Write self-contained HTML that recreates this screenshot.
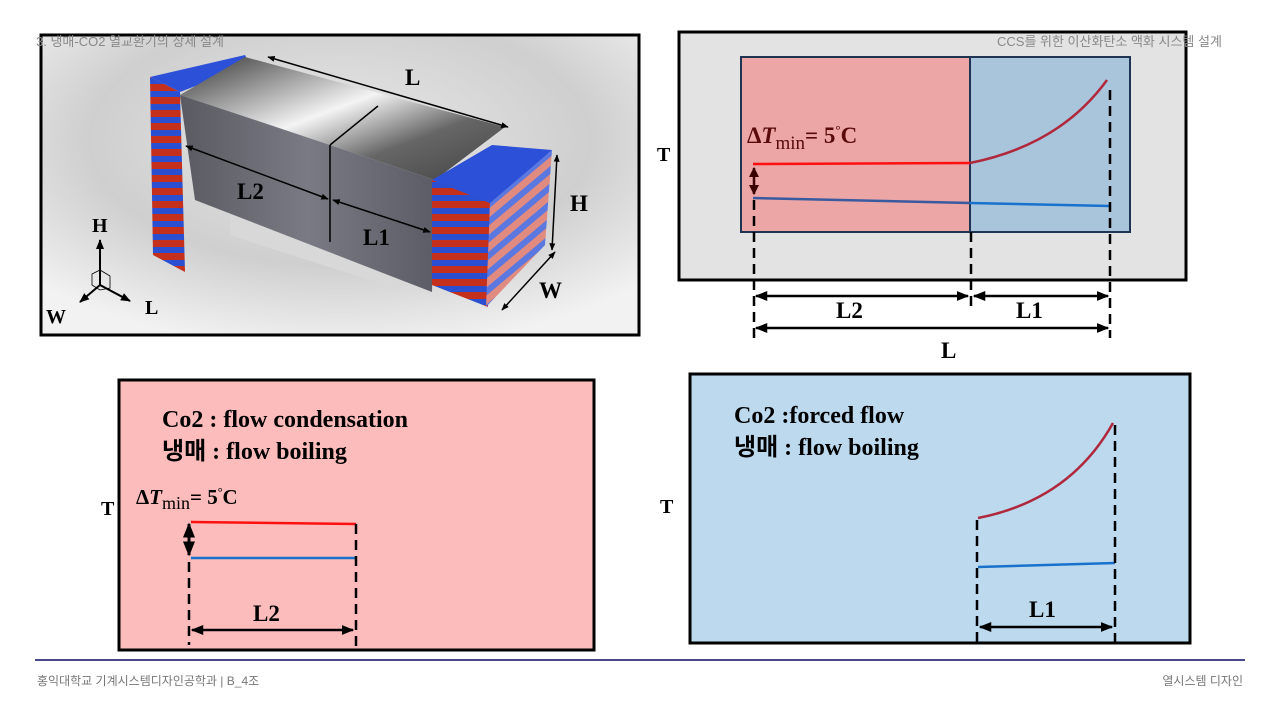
<!DOCTYPE html>
<html><head><meta charset="utf-8"><style>
html,body{margin:0;padding:0;background:#fff;}
svg{display:block;}
.s{font-family:"Liberation Serif",serif;font-weight:bold;}
.k{font-family:"Liberation Sans","Noto Sans CJK KR",sans-serif;}
</style></head><body>
<svg width="1280" height="720" viewBox="0 0 1280 720" xmlns="http://www.w3.org/2000/svg">
<defs>
<marker id="a" viewBox="0 0 10 10" refX="9" refY="5" markerWidth="5" markerHeight="5" orient="auto-start-reverse"><path d="M0,1L10,5L0,9z" fill="#000"/></marker>
<marker id="ad" viewBox="0 0 10 10" refX="9" refY="5" markerWidth="4" markerHeight="4" orient="auto-start-reverse"><path d="M0,0L10,5L0,10z" fill="#3a0000"/></marker>
<radialGradient id="bg" cx="0.5" cy="0.35" r="0.7"><stop offset="0" stop-color="#e8e8e8"/><stop offset="0.6" stop-color="#cfcfcf"/><stop offset="1" stop-color="#f2f2f2"/></radialGradient>
<linearGradient id="top" x1="0" y1="0" x2="1" y2="1"><stop offset="0" stop-color="#333"/><stop offset="0.45" stop-color="#f4f4f4"/><stop offset="0.7" stop-color="#666"/><stop offset="1" stop-color="#444"/></linearGradient>
<linearGradient id="front" x1="0" y1="0" x2="1" y2="0"><stop offset="0" stop-color="#5a5a62"/><stop offset="0.5" stop-color="#7a7a84"/><stop offset="1" stop-color="#5c5c66"/></linearGradient>
<pattern id="stripe" width="10" height="13" patternUnits="userSpaceOnUse"><rect width="10" height="13" fill="#c4301c"/><rect width="10" height="6" fill="#2a4fd0"/></pattern>
<pattern id="stripe2" width="10" height="13" patternUnits="userSpaceOnUse" patternTransform="rotate(-40)"><rect width="10" height="13" fill="#e08a80"/><rect width="10" height="6" fill="#5a78e0"/></pattern>
</defs>

<!-- Top-left render -->
<rect x="41" y="35" width="598" height="300" fill="url(#bg)" stroke="#000" stroke-width="3"/>
<text x="36" y="46" class="k" font-size="13" fill="#888">3. 냉매-CO2 열교환기의 상세 설계</text>
<polygon points="230,200 400,268 400,290 230,235" fill="#d8d8d8"/>
<polygon points="150,77 245,55 250,65 180,92" fill="#2c50d8"/>
<polygon points="150,77 180,92 185,272 153,255" fill="url(#stripe)"/>
<polygon points="245,57 505,127 435,180 180,95" fill="url(#top)"/>
<polygon points="180,95 435,180 432,292 195,200" fill="url(#front)"/>
<polygon points="432,180 492,145 552,150 490,205" fill="#2c50d8"/>
<polygon points="432,180 490,203 488,307 432,285" fill="url(#stripe)"/>
<polygon points="490,203 552,150 545,245 486,307" fill="url(#stripe2)"/>
<line x1="330" y1="145" x2="330" y2="242" stroke="#000" stroke-width="1.5"/>
<line x1="330" y1="145" x2="378" y2="106" stroke="#000" stroke-width="1.5"/>
<line x1="268" y1="57" x2="508" y2="127" stroke="#000" stroke-width="1.5" marker-start="url(#a)" marker-end="url(#a)"/>
<line x1="186" y1="146" x2="328" y2="199" stroke="#000" stroke-width="1.5" marker-start="url(#a)" marker-end="url(#a)"/>
<line x1="333" y1="200" x2="430" y2="232" stroke="#000" stroke-width="1.5" marker-start="url(#a)" marker-end="url(#a)"/>
<line x1="557" y1="155" x2="552" y2="250" stroke="#000" stroke-width="1.5" marker-start="url(#a)" marker-end="url(#a)"/>
<line x1="555" y1="252" x2="502" y2="310" stroke="#000" stroke-width="1.5" marker-start="url(#a)" marker-end="url(#a)"/>
<text x="405" y="85" class="s" font-size="23">L</text>
<text x="237" y="199" class="s" font-size="23">L2</text>
<text x="363" y="245" class="s" font-size="23">L1</text>
<text x="570" y="211" class="s" font-size="23">H</text>
<text x="539" y="298" class="s" font-size="23">W</text>
<text x="92" y="232" class="s" font-size="20">H</text>
<text x="46" y="323" class="s" font-size="20">W</text>
<text x="145" y="314" class="s" font-size="20">L</text>
<line x1="100" y1="285" x2="100" y2="240" stroke="#000" stroke-width="2" marker-end="url(#a)"/>
<line x1="100" y1="285" x2="80" y2="302" stroke="#000" stroke-width="2" marker-end="url(#a)"/>
<line x1="100" y1="285" x2="130" y2="301" stroke="#000" stroke-width="2" marker-end="url(#a)"/>
<polygon points="100,270 110,276 110,288 100,290 92,285 92,274" fill="none" stroke="#000" stroke-width="0.8"/>

<!-- Top-right -->
<rect x="679" y="32" width="507" height="248" fill="#e3e3e3" stroke="#000" stroke-width="3"/>
<text x="997" y="46" class="k" font-size="13" fill="#888">CCS를 위한 이산화탄소 액화 시스템 설계</text>
<rect x="741" y="57" width="229" height="175" fill="#eca6a6" stroke="#1f3352" stroke-width="2"/>
<rect x="970" y="57" width="160" height="175" fill="#a9c5dc" stroke="#1f3352" stroke-width="2"/>
<line x1="753" y1="164" x2="970" y2="163" stroke="#ff1010" stroke-width="2.5"/>
<path d="M970,163 Q1060,145 1107,80" fill="none" stroke="#b0283c" stroke-width="2.5"/>
<line x1="753" y1="198" x2="970" y2="203" stroke="#3a5aa0" stroke-width="2.5"/>
<line x1="970" y1="203" x2="1110" y2="206" stroke="#1872cc" stroke-width="2.5"/>
<line x1="754" y1="168" x2="754" y2="194" stroke="#3a0000" stroke-width="2.5" marker-start="url(#ad)" marker-end="url(#ad)"/>
<text x="747" y="143" class="s" font-size="23" fill="#5a0a0a">Δ<tspan font-style="italic">T</tspan><tspan font-size="19" font-weight="normal" dy="6">min</tspan><tspan dy="-6">= 5</tspan><tspan font-size="13" dy="-9">°</tspan><tspan dy="9">C</tspan></text>
<text x="657" y="161" class="s" font-size="20">T</text>
<g stroke="#000" stroke-width="2.5" stroke-dasharray="10,6">
<line x1="754" y1="200" x2="754" y2="338"/>
<line x1="971" y1="232" x2="971" y2="308"/>
<line x1="1110" y1="90" x2="1110" y2="338"/>
</g>
<line x1="756" y1="296" x2="968" y2="296" stroke="#000" stroke-width="2.5" marker-start="url(#a)" marker-end="url(#a)"/>
<line x1="974" y1="296" x2="1108" y2="296" stroke="#000" stroke-width="2.5" marker-start="url(#a)" marker-end="url(#a)"/>
<line x1="756" y1="328" x2="1108" y2="328" stroke="#000" stroke-width="2.5" marker-start="url(#a)" marker-end="url(#a)"/>
<text x="836" y="318" class="s" font-size="23">L2</text>
<text x="1016" y="318" class="s" font-size="23">L1</text>
<text x="941" y="358" class="s" font-size="23">L</text>

<!-- Bottom-left -->
<rect x="119" y="380" width="475" height="270" fill="#fdbcbc" stroke="#000" stroke-width="3"/>
<text x="162" y="427" class="s" font-size="24">Co2 : flow condensation</text>
<text x="162" y="459" class="s" font-size="24"><tspan class="k" font-weight="bold">냉매</tspan> : flow boiling</text>
<text x="136" y="504" class="s" font-size="21">Δ<tspan font-style="italic">T</tspan><tspan font-size="18" font-weight="normal" dy="5">min</tspan><tspan dy="-5">= 5</tspan><tspan font-size="12" dy="-8">°</tspan><tspan dy="8">C</tspan></text>
<text x="101" y="515" class="s" font-size="20">T</text>
<line x1="191" y1="522" x2="356" y2="524" stroke="#ff1010" stroke-width="2.5"/>
<line x1="191" y1="558" x2="356" y2="558" stroke="#1872cc" stroke-width="2.5"/>
<line x1="189" y1="524" x2="189" y2="555" stroke="#000" stroke-width="3" marker-start="url(#a)" marker-end="url(#a)"/>
<g stroke="#000" stroke-width="2.5" stroke-dasharray="10,6">
<line x1="189" y1="562" x2="189" y2="645"/>
<line x1="356" y1="524" x2="356" y2="652"/>
</g>
<line x1="192" y1="630" x2="353" y2="630" stroke="#000" stroke-width="2.5" marker-start="url(#a)" marker-end="url(#a)"/>
<text x="253" y="621" class="s" font-size="23">L2</text>

<!-- Bottom-right -->
<rect x="690" y="374" width="500" height="269" fill="#bcd9ee" stroke="#000" stroke-width="3"/>
<text x="734" y="423" class="s" font-size="24">Co2 :forced flow</text>
<text x="734" y="455" class="s" font-size="24"><tspan class="k" font-weight="bold">냉매</tspan> : flow boiling</text>
<text x="660" y="513" class="s" font-size="20">T</text>
<path d="M978,518 Q1070,500 1113,423" fill="none" stroke="#b0283c" stroke-width="2.5"/>
<line x1="978" y1="567" x2="1115" y2="563" stroke="#1872cc" stroke-width="2.5"/>
<g stroke="#000" stroke-width="2.5" stroke-dasharray="10,6">
<line x1="977" y1="520" x2="977" y2="643"/>
<line x1="1115" y1="425" x2="1115" y2="643"/>
</g>
<line x1="980" y1="627" x2="1112" y2="627" stroke="#000" stroke-width="2.5" marker-start="url(#a)" marker-end="url(#a)"/>
<text x="1029" y="617" class="s" font-size="23">L1</text>

<!-- Footer -->
<line x1="35" y1="660" x2="1245" y2="660" stroke="#4a4a8a" stroke-width="2"/>
<text x="37" y="685" class="k" font-size="12" fill="#777">홍익대학교 기계시스템디자인공학과 | B_4조</text>
<text x="1243" y="685" class="k" font-size="12" fill="#777" text-anchor="end">열시스템 디자인</text>
</svg>
</body></html>
